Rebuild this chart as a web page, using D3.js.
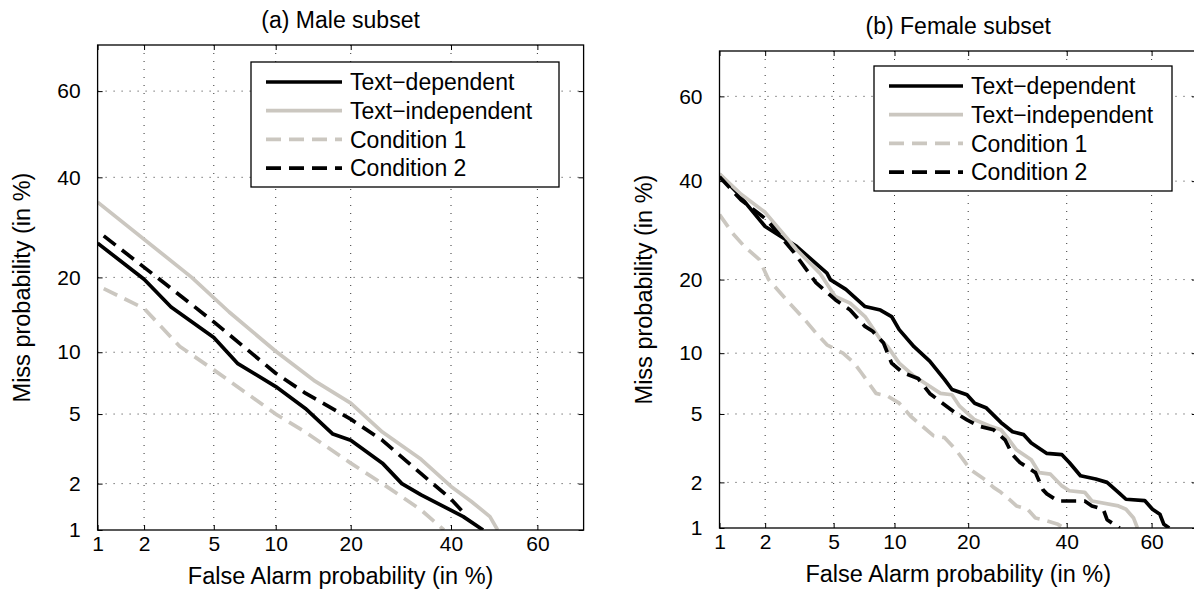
<!DOCTYPE html>
<html>
<head>
<meta charset="utf-8">
<script src="https://cdn.jsdelivr.net/npm/d3@7"></script>
<style>
body { margin: 0; background: #fff; }
svg text { font-family: "Liberation Sans", Arial, Helvetica, sans-serif; fill: #000; }
</style>
</head>
<body>
<svg id="my_dataviz" width="1194" height="597"></svg>
<script>
// axis values (in %), probit scale from 1 to 70
var tickValues = [1, 2, 5, 10, 20, 40, 60];
var axisRange = [1, 70];
var seriesNames = ["Text\u2212dependent", "Text\u2212independent", "Condition 1", "Condition 2"];

// [false alarm %, miss %]
var maleTextDep = [[1, 26.1], [2, 19.7], [2.9, 15.5], [5, 11.6], [6.6, 8.9], [10, 6.9], [13.4, 5.35], [17.2, 3.9], [20, 3.6], [25.6, 2.66], [29.4, 2.0], [33.4, 1.7], [38.4, 1.43], [42.8, 1.23], [47.4, 1.0]];
var maleTextIndep = [[1, 34.5], [3.8, 20], [6, 14.8], [10, 10.1], [14.5, 7.4], [20, 5.7], [25.6, 4.0], [33.4, 2.8], [40, 1.92], [44.6, 1.55], [49, 1.23], [50.8, 1.0]];
var maleCond1 = [[1.1, 18.2], [2, 15.3], [3.26, 10.6], [5, 8.3], [10, 5.0], [13.4, 4.0], [20, 2.66], [25.6, 2.0], [33.4, 1.36], [38.4, 1.0]];
var maleCond2 = [[1.1, 27.5], [2.4, 20], [5, 13.5], [10, 8.0], [13.4, 6.4], [20, 4.7], [25.6, 3.6], [33.4, 2.3], [40, 1.6], [43.5, 1.25]];

var femaleTextDep = [[1, 41.5], [1.3, 37.6], [2, 30], [3.1, 26], [4.6, 21.1], [4.8, 20], [5.8, 18.4], [7.25, 15.8], [8.6, 15.3], [9.7, 14.4], [10.5, 12.7], [12.2, 10.7], [14.2, 9.2], [16.3, 7.5], [17.4, 6.7], [19.8, 6.3], [21.1, 5.7], [23.1, 5.4], [25.9, 4.5], [28.2, 4.0], [30.5, 3.85], [32.1, 3.45], [35.5, 3.0], [38.9, 2.95], [40.6, 2.65], [43.2, 2.2], [46.8, 2.1], [49.5, 2.0], [52.2, 1.73], [54, 1.56], [58.4, 1.53], [60.2, 1.34], [61.9, 1.24], [62.8, 1.06], [64, 1.0]];
var femaleTextIndep = [[1, 41.7], [1.4, 37], [2, 33], [3.1, 25.4], [4.2, 21.1], [5.1, 17.3], [6.1, 16.3], [7.25, 14.4], [8.6, 11.5], [9.3, 10.7], [10.5, 9.0], [12.2, 7.8], [14.2, 6.95], [15.7, 6.4], [17.4, 6.3], [18.6, 5.5], [21.1, 4.65], [23.8, 4.3], [25.9, 4.1], [27.5, 3.6], [29, 3.15], [32.1, 2.75], [33.8, 2.3], [36.3, 2.25], [38.9, 1.9], [40.6, 1.77], [44.2, 1.73], [45.9, 1.52], [52.2, 1.41], [54, 1.34], [55.8, 1.17], [56.7, 1.0]];
var femaleCond1 = [[1, 32.5], [1.23, 28.6], [1.47, 26], [1.84, 23.5], [2.1, 20], [2.7, 16.8], [3.45, 14], [4.0, 12.3], [4.6, 10.9], [5.6, 10], [6.4, 9.0], [6.95, 8.1], [8.2, 6.4], [9.3, 6.2], [10.5, 5.7], [11.8, 4.86], [13.2, 4.3], [14.7, 3.8], [16.3, 3.7], [18, 3.15], [19.2, 2.75], [20.4, 2.4], [23.1, 2.06], [24.5, 1.86], [25.9, 1.73], [27.5, 1.56], [29, 1.41], [31.3, 1.34], [33, 1.17], [34.6, 1.14], [38, 1.06], [39.3, 1.0]];
var femaleCond2 = [[1, 41], [1.4, 35.7], [2.05, 31.4], [3, 24.8], [4.0, 19.5], [5.1, 16.8], [6.1, 15.3], [7.25, 13.1], [7.9, 12.5], [8.9, 11.1], [9.7, 9.0], [10.9, 8.1], [12.7, 7.6], [14.2, 6.4], [15.7, 5.8], [18, 5.05], [19.8, 4.65], [21.8, 4.3], [24.5, 4.1], [26.7, 3.6], [28.2, 2.95], [29.7, 2.65], [33, 2.3], [34.6, 1.8], [35.5, 1.69], [38, 1.52], [44.2, 1.52], [45.9, 1.41], [48.6, 1.34], [49.5, 1.14], [52.5, 1.0]];

var black = "#000000", grey = "#cbc7c0";
var styles = [
    { color: black, dash: null },
    { color: grey, dash: null },
    { color: grey, dash: "15,8" },
    { color: black, dash: "15,8" }
];

// inverse of the normal cdf (Acklam)
function probit(p) {
    var a = [-3.969683028665376e+01, 2.209460984245205e+02, -2.759285104469687e+02, 1.383577518672690e+02, -3.066479806614716e+01, 2.506628277459239e+00];
    var b = [-5.447609879822406e+01, 1.615858368580409e+02, -1.556989798598866e+02, 6.680131188771972e+01, -1.328068155288572e+01];
    var c = [-7.784894002430293e-03, -3.223964580411365e-01, -2.400758277161838e+00, -2.549732539343734e+00, 4.374664141464968e+00, 2.938163982698783e+00];
    var d = [7.784695709041462e-03, 3.224671290700398e-01, 2.445134137142996e+00, 3.754408661907416e+00];
    var pl = 0.02425, q, r;
    if (p < pl) {
        q = Math.sqrt(-2 * Math.log(p));
        return (((((c[0] * q + c[1]) * q + c[2]) * q + c[3]) * q + c[4]) * q + c[5]) / ((((d[0] * q + d[1]) * q + d[2]) * q + d[3]) * q + 1);
    }
    if (p <= 1 - pl) {
        q = p - 0.5; r = q * q;
        return (((((a[0] * r + a[1]) * r + a[2]) * r + a[3]) * r + a[4]) * r + a[5]) * q / (((((b[0] * r + b[1]) * r + b[2]) * r + b[3]) * r + b[4]) * r + 1);
    }
    q = Math.sqrt(-2 * Math.log(1 - p));
    return -(((((c[0] * q + c[1]) * q + c[2]) * q + c[3]) * q + c[4]) * q + c[5]) / ((((d[0] * q + d[1]) * q + d[2]) * q + d[3]) * q + 1);
}
function pz(pct) { return probit(pct / 100); }

var svg = d3.select("#my_dataviz");

function drawPanel(cfg) {
    var width = cfg.w, height = cfg.h;
    var g = svg.append("g")
        .attr("transform", "translate(" + cfg.left + "," + cfg.top + ")");

    var x = d3.scaleLinear().domain(axisRange.map(pz)).range([0, width]);
    var y = d3.scaleLinear().domain(axisRange.map(pz)).range([height, 0]);
    var tz = tickValues.map(pz);

    // dotted grid
    g.append("g").selectAll("line")
        .data(tickValues.slice(1))
        .enter().append("line")
        .attr("x1", function(d) { return x(pz(d)); })
        .attr("x2", function(d) { return x(pz(d)); })
        .attr("y1", 0).attr("y2", height)
        .attr("stroke", "#333").attr("stroke-width", 1).attr("stroke-dasharray", "1,7");
    g.append("g").selectAll("line")
        .data(tickValues.slice(1))
        .enter().append("line")
        .attr("y1", function(d) { return y(pz(d)); })
        .attr("y2", function(d) { return y(pz(d)); })
        .attr("x1", 0).attr("x2", width)
        .attr("stroke", "#333").attr("stroke-width", 1).attr("stroke-dasharray", "1,7");

    // axes with inward ticks
    var fmt = function(d, i) { return tickValues[i]; };
    g.append("g").attr("transform", "translate(0," + height + ")")
        .call(d3.axisBottom(x).tickValues(tz).tickFormat(fmt).tickSizeInner(-5).tickSizeOuter(0).tickPadding(6))
        .call(function(a) { a.select(".domain").remove(); a.selectAll("text").style("font-size", "21px"); });
    g.append("g")
        .call(d3.axisLeft(y).tickValues(tz).tickFormat(fmt).tickSizeInner(-5).tickSizeOuter(0).tickPadding(17))
        .call(function(a) { a.select(".domain").remove(); a.selectAll("text").style("font-size", "21px"); });
    g.append("g")
        .call(d3.axisTop(x).tickValues(tz).tickFormat("").tickSizeInner(-5).tickSizeOuter(0))
        .select(".domain").remove();
    g.append("g").attr("transform", "translate(" + width + ",0)")
        .call(d3.axisRight(y).tickValues(tz).tickFormat("").tickSizeInner(-5).tickSizeOuter(0))
        .select(".domain").remove();

    // curves
    g.append("clipPath").attr("id", cfg.id + "-clip")
        .append("rect").attr("width", width).attr("height", height);
    var line = d3.line()
        .x(function(d) { return x(pz(d[0])); })
        .y(function(d) { return y(pz(d[1])); });
    var curves = g.append("g").attr("clip-path", "url(#" + cfg.id + "-clip)");
    cfg.series.forEach(function(s, i) {
        curves.append("path")
            .datum(s)
            .attr("d", line)
            .attr("fill", "none")
            .attr("stroke", styles[i].color)
            .attr("stroke-width", 3.7)
            .attr("stroke-linejoin", "round")
            .attr("stroke-dasharray", styles[i].dash);
    });

    // frame
    g.append("rect")
        .attr("width", width).attr("height", height)
        .attr("fill", "none").attr("stroke", "#000").attr("stroke-width", 1.3);

    // legend
    var leg = g.append("g").attr("transform", "translate(" + cfg.legX + "," + cfg.legY + ")");
    leg.append("rect")
        .attr("width", cfg.legW).attr("height", 125)
        .attr("fill", "#fff").attr("stroke", "#000").attr("stroke-width", 1.3);
    seriesNames.forEach(function(name, i) {
        var ly = 20 + i * 28.7;
        leg.append("line")
            .attr("x1", 15).attr("x2", cfg.sampleEnd)
            .attr("y1", ly).attr("y2", ly)
            .attr("stroke", styles[i].color).attr("stroke-width", 3.7)
            .attr("stroke-dasharray", styles[i].dash);
        leg.append("text")
            .attr("x", cfg.sampleEnd + 8).attr("y", ly)
            .attr("dy", "0.36em")
            .style("font-size", "23px")
            .text(name);
    });

    // titles and labels
    g.append("text")
        .attr("x", width / 2).attr("y", -17)
        .attr("text-anchor", "middle")
        .style("font-size", "23px")
        .text(cfg.title);
    g.append("text")
        .attr("x", width / 2).attr("y", height + 54)
        .attr("text-anchor", "middle")
        .style("font-size", "23.5px")
        .text("False Alarm probability (in %)");
    g.append("text")
        .attr("transform", "translate(" + (-68) + "," + (height / 2) + ") rotate(-90)")
        .attr("text-anchor", "middle")
        .style("font-size", "23.5px")
        .text("Miss probability (in %)");
}

drawPanel({
    id: "male", left: 97.6, top: 45, w: 486, h: 485,
    title: "(a) Male subset",
    series: [maleTextDep, maleTextIndep, maleCond1, maleCond2],
    legX: 153.4, legY: 17, legW: 308, sampleEnd: 91
});
drawPanel({
    id: "female", left: 719.5, top: 51, w: 477.5, h: 477,
    title: "(b) Female subset",
    series: [femaleTextDep, femaleTextIndep, femaleCond1, femaleCond2],
    legX: 154.5, legY: 15, legW: 298, sampleEnd: 89
});
</script>
</body>
</html>
